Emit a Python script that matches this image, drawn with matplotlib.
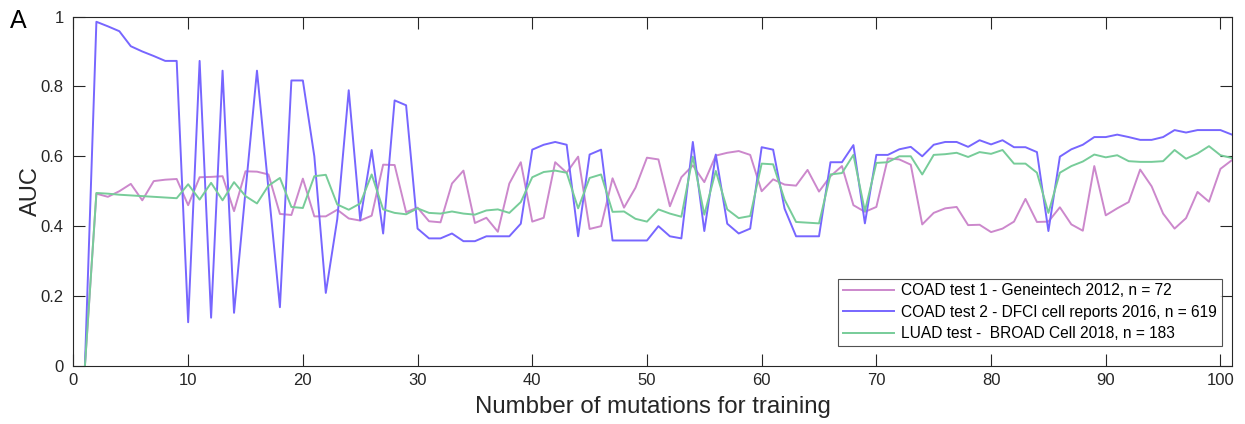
import matplotlib
matplotlib.use("Agg")
import matplotlib.pyplot as plt
import numpy as np

#---------Daten--------
mutations = list(range(1, 102))

coad_test1 = [0.0, 0.493, 0.484, 0.500, 0.521, 0.474, 0.529, 0.533, 0.535, 0.460,
              0.540, 0.541, 0.543, 0.443, 0.557, 0.556, 0.548, 0.435, 0.432, 0.536,
              0.428, 0.428, 0.447, 0.422, 0.416, 0.430, 0.576, 0.575, 0.440, 0.453,
              0.414, 0.411, 0.522, 0.559, 0.409, 0.424, 0.384, 0.522, 0.583, 0.413,
              0.424, 0.583, 0.553, 0.599, 0.392, 0.400, 0.537, 0.453, 0.510, 0.596,
              0.591, 0.457, 0.540, 0.574, 0.526, 0.602, 0.610, 0.615, 0.604, 0.500,
              0.534, 0.519, 0.516, 0.561, 0.499, 0.543, 0.572, 0.460, 0.441, 0.455,
              0.594, 0.591, 0.576, 0.405, 0.438, 0.451, 0.455, 0.403, 0.404, 0.383,
              0.393, 0.413, 0.478, 0.412, 0.413, 0.454, 0.405, 0.387, 0.572, 0.431,
              0.451, 0.469, 0.562, 0.514, 0.436, 0.393, 0.423, 0.498, 0.470, 0.564,
              0.589]

coad_test2 = [0.0, 0.985, 0.972, 0.958, 0.915, 0.900, 0.887, 0.873, 0.873, 0.125,
              0.873, 0.138, 0.845, 0.152, 0.500, 0.845, 0.507, 0.168, 0.817, 0.817,
              0.600, 0.209, 0.420, 0.789, 0.417, 0.618, 0.379, 0.760, 0.746, 0.393,
              0.365, 0.365, 0.379, 0.357, 0.357, 0.371, 0.371, 0.371, 0.407, 0.619,
              0.633, 0.641, 0.633, 0.371, 0.605, 0.619, 0.359, 0.359, 0.359, 0.359,
              0.400, 0.371, 0.365, 0.641, 0.386, 0.605, 0.407, 0.379, 0.393, 0.626,
              0.619, 0.450, 0.371, 0.371, 0.371, 0.583, 0.583, 0.632, 0.408, 0.604,
              0.604, 0.620, 0.627, 0.600, 0.633, 0.641, 0.641, 0.627, 0.646, 0.634,
              0.646, 0.626, 0.626, 0.612, 0.386, 0.599, 0.620, 0.633, 0.655, 0.655,
              0.662, 0.655, 0.647, 0.647, 0.655, 0.675, 0.668, 0.675, 0.675, 0.675,
              0.662]

luad_test = [0.0, 0.495, 0.493, 0.490, 0.488, 0.486, 0.484, 0.482, 0.480, 0.520,
             0.476, 0.524, 0.474, 0.526, 0.486, 0.465, 0.516, 0.538, 0.455, 0.452,
             0.543, 0.547, 0.462, 0.447, 0.465, 0.548, 0.448, 0.438, 0.434, 0.451,
             0.438, 0.436, 0.442, 0.436, 0.433, 0.445, 0.448, 0.438, 0.469, 0.540,
             0.555, 0.559, 0.553, 0.451, 0.538, 0.548, 0.441, 0.442, 0.421, 0.413,
             0.448, 0.436, 0.427, 0.599, 0.433, 0.558, 0.448, 0.423, 0.429, 0.579,
             0.577, 0.476, 0.412, 0.410, 0.408, 0.548, 0.552, 0.604, 0.443, 0.581,
             0.583, 0.600, 0.600, 0.548, 0.604, 0.606, 0.610, 0.598, 0.612, 0.607,
             0.618, 0.579, 0.579, 0.553, 0.438, 0.553, 0.572, 0.585, 0.605, 0.597,
             0.603, 0.586, 0.584, 0.584, 0.586, 0.618, 0.593, 0.608, 0.629, 0.603,
             0.595]

labels = ["COAD test 1 - Geneintech 2012, n = 72",
          "COAD test 2 - DFCI cell reports 2016, n = 619",
          "LUAD test -  BROAD Cell 2018, n = 183"]
farben = ["#cc88cc", "#7766ff", "#77cc99"]

#---------Plot--------
plt.rcParams['font.family'] = ['Liberation Sans', 'DejaVu Sans']
fig = plt.figure(figsize=(12.45, 4.24), dpi=100)
ax = fig.add_axes([0.059, 0.137, 0.9305, 0.824])

for werte, farbe, label in zip([coad_test1, coad_test2, luad_test], farben, labels):
    ax.plot(mutations, werte, color=farbe, lw=1.4, label=label)

ax.set_xlim(0, 101)
ax.set_ylim(0, 1)
ax.set_xticks(range(0, 101, 10))
ax.set_yticks([0, 0.2, 0.4, 0.6, 0.8, 1])
ax.set_yticklabels(["0", "0.2", "0.4", "0.6", "0.8", "1"])
ax.tick_params(direction='in', length=8.5, width=0.8, top=True, right=True,
               labelsize=12, colors='#262626')
ax.tick_params(axis='y', pad=7)
ax.tick_params(axis='x', pad=5)
for s in ax.spines.values():
    s.set_color('#262626')
    s.set_linewidth(0.8)

ax.set_xlabel("Numbber of mutations for training", fontsize=17.3, color='#262626', labelpad=6)
ax.set_ylabel("AUC", fontsize=17, color='#262626', labelpad=-1)

leg = ax.legend(loc='lower right', bbox_to_anchor=(0.991, 0.057), fontsize=11.2,
                frameon=True, fancybox=False, handlelength=3.3, handletextpad=0.45,
                borderpad=0.3, labelspacing=0.42, borderaxespad=0)
leg.get_frame().set_edgecolor('#262626')
leg.get_frame().set_linewidth(0.8)

fig.text(0.008, 0.933, "A", fontsize=18, color='black')

fig.savefig("out.png", dpi=100)
